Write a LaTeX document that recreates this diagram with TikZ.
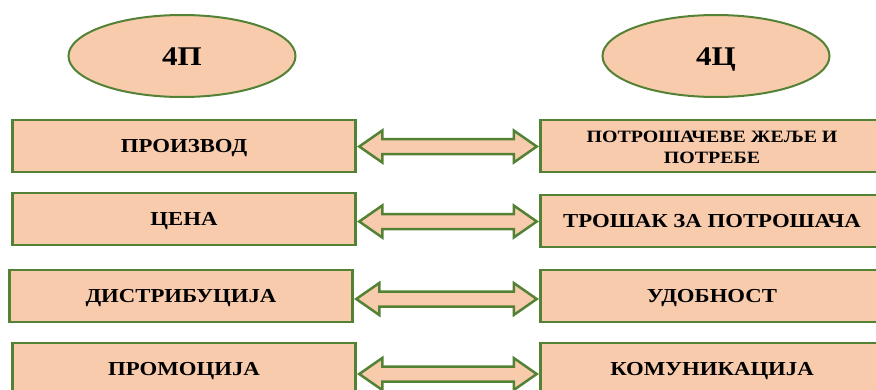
\documentclass[tikz,border=0pt]{standalone}
\usepackage{fontspec}
\setmainfont{Liberation Serif}[FakeStretch=1.15]
\usetikzlibrary{calc,shapes.geometric}
\definecolor{peach}{HTML}{F8CBAD}
\definecolor{leaf}{HTML}{548235}
\tikzset{
  mixbox/.style={draw=leaf, fill=peach, line width=2.5pt, rectangle,
    minimum width=343, minimum height=52, inner sep=0pt},
  caps/.style={text height=13pt, text depth=0pt,
    font=\bfseries\fontsize{19.8}{22}\selectfont},
  twoline/.style={font=\bfseries\fontsize{17.3}{21}\selectfont},
  head/.style={draw=leaf, fill=peach, line width=2pt, ellipse,
    minimum width=227, minimum height=82, inner sep=0pt,
    text height=18pt, text depth=0pt,
    font=\bfseries\fontsize{27}{30}\selectfont},
  dbl/.style={draw=leaf, fill=peach, line width=2.5pt, line join=miter}
}
% double-headed block arrow between two boxes, #3 = vertical offset
\newcommand\biarrow[3]{%
  \draw[dbl] let \p1=($(#1.east)+(2.5,#3)$), \p2=($(#2.west)+(-2.5,#3)$) in
    (\x1,\y1) -- (\x1+23pt,\y1+16pt) -- (\x1+23pt,\y1+7.5pt)
    -- (\x2-23pt,\y1+7.5pt) -- (\x2-23pt,\y1+16pt) -- (\x2,\y1)
    -- (\x2-23pt,\y1-16pt) -- (\x2-23pt,\y1-7.5pt)
    -- (\x1+23pt,\y1-7.5pt) -- (\x1+23pt,\y1-16pt) -- cycle;}
\begin{document}
\begin{tikzpicture}[x=1pt,y=-1pt]
\useasboundingbox (0,0) rectangle (876,389);
\clip (0,0) rectangle (876,389);

\node[head] (p) at (182,56) {4П};
\node[head] (c) at (716,56) {4Ц};

\node[mixbox,caps] (l1) at (184,146) {ПРОИЗВОД};
\node[mixbox,caps] (l2) at (184,219) {ЦЕНА};
\node[mixbox,caps] (l3) at (181,296) {ДИСТРИБУЦИЈА};
\node[mixbox,caps] (l4) at (184,369) {ПРОМОЦИЈА};

\node[mixbox,twoline] (r1) at (712,146)
  {\begin{tabular}{@{}c@{}}\rule{0pt}{21pt}ПОТРОШАЧЕВЕ ЖЕЉЕ И\\ПОТРЕБЕ\end{tabular}};
\node[mixbox,caps] (r2) at (712,221) {ТРОШАК ЗА ПОТРОШАЧА};
\node[mixbox,caps] (r3) at (712,296) {УДОБНОСТ};
\node[mixbox,caps] (r4) at (712,369) {КОМУНИКАЦИЈА};

\biarrow{l1}{r1}{0.5}
\biarrow{l2}{r2}{2.5}
\biarrow{l3}{r3}{3}
\biarrow{l4}{r4}{5}
\end{tikzpicture}
\end{document}
